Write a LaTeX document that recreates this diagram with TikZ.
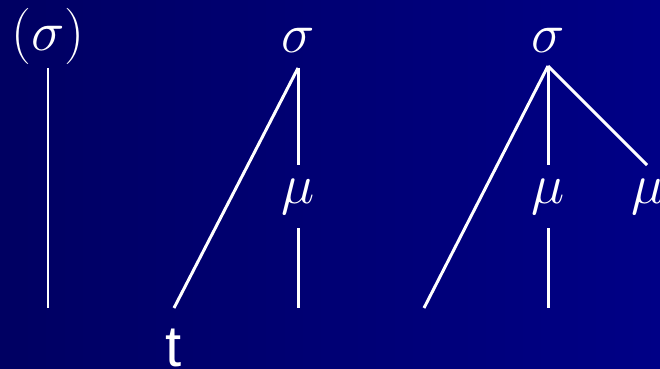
\documentclass[tikz,border=0pt]{standalone}
\usepackage{fix-cm}
\usepackage{fontspec}
\newfontfamily\labelsans{Liberation Sans}
\definecolor{bgleft}{RGB}{0,0,98}
\definecolor{bgright}{RGB}{0,0,134}
\begin{document}
\begin{tikzpicture}[
  lbl/.style={text=white, inner sep=0pt, font=\fontsize{32}{38}\selectfont},
  mu/.style={lbl, minimum height=1.26cm},
  br/.style={draw=white, line width=1.7pt}]
\shade[left color=bgleft, right color=bgright] (0,0) rectangle (13.2,7.36);
\useasboundingbox (0,0) rectangle (13.2,7.36);
\clip (0,0) rectangle (13.2,7.36);

\node[lbl] (s1) at (0.96,6.64) {$(\sigma)$};
\node[lbl] (s2) at (5.96,6.56) {$\sigma$};
\node[lbl] (s3) at (10.96,6.56) {$\sigma$};

\coordinate (a1) at (0.96,6.0);
\coordinate (a2) at (5.96,6.0);
\coordinate (a3) at (10.96,6.04);

\node[mu] (m2) at (5.96,3.43) {$\mu$};
\node[mu] (m3) at (10.96,3.43) {$\mu$};
\node[mu] (m4) at (12.96,3.43) {$\mu$};

\coordinate (b1) at (0.96,1.2);
\coordinate (b2) at (3.48,1.2);
\coordinate (b3) at (5.96,1.2);
\coordinate (b4) at (8.48,1.2);
\coordinate (b5) at (10.96,1.2);
\coordinate (e4) at (12.94,4.06);

\node[lbl, anchor=base, font=\labelsans\fontsize{33}{40}\selectfont] (t) at (3.48,0.04) {t};

\draw[br] (a1) -- (b1);
\draw[br] (a2) -- (b2);
\draw[br] (a2) -- (m2.north);
\draw[br] (m2.south) -- (b3);
\draw[br] (a3) -- (b4);
\draw[br] (a3) -- (m3.north);
\draw[br] (m3.south) -- (b5);
\draw[br] (a3) -- (e4);
\end{tikzpicture}
\end{document}
